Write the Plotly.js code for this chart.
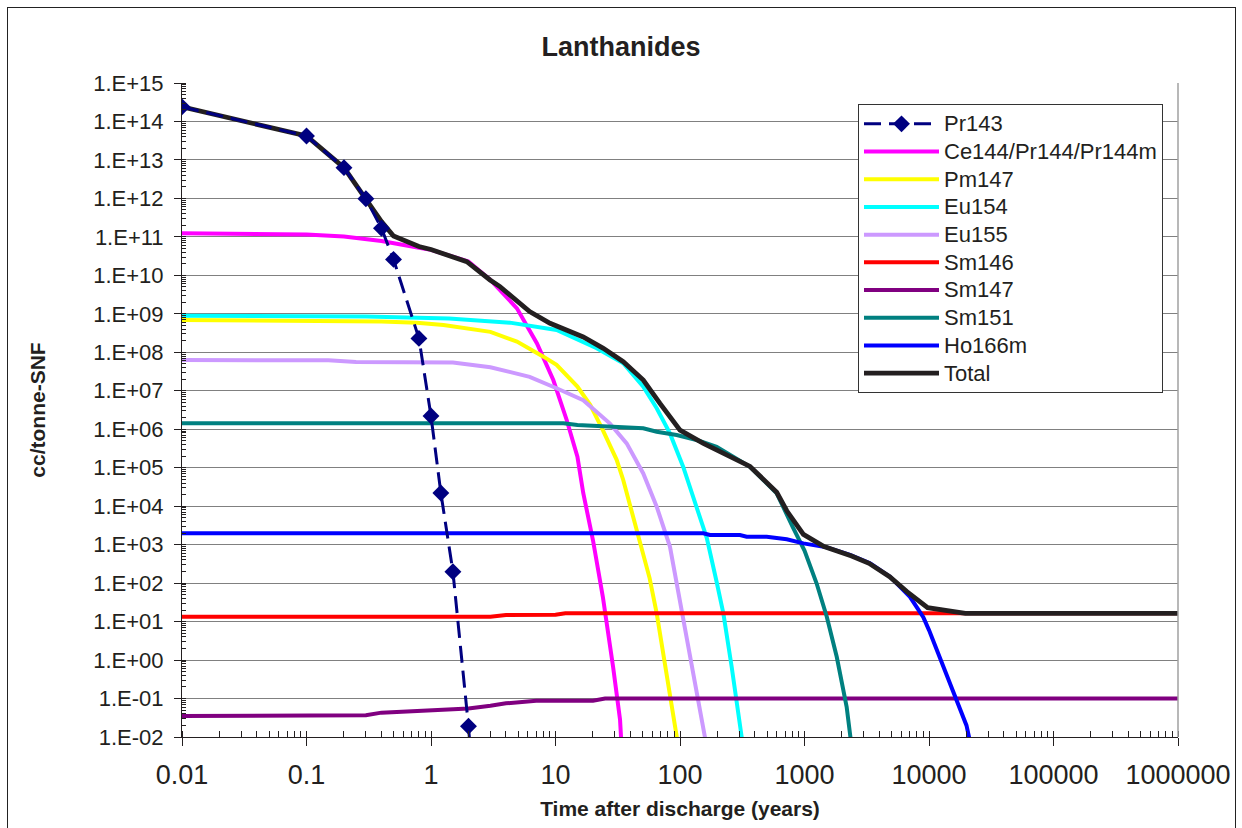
<!DOCTYPE html>
<html>
<head>
<meta charset="utf-8">
<script src="https://cdn.plot.ly/plotly-3.0.1.min.js"></script>
<style>
  html, body { margin: 0; padding: 0; background: #fff; }
  #frame { position: absolute; left: 7px; top: 7px; width: 1227px; height: 830px;
           border-left: 1px solid #222; border-top: 1px solid #222; border-right: 1px solid #222; }
  #chart { position: absolute; left: 0; top: 0; width: 1242px; height: 828px; }
</style>
</head>
<body>
<div id="frame"></div>
<div id="chart"></div>
<script>
// ---- data ----
const pr143X = [0.01, 0.1, 0.2, 0.3, 0.4, 0.5, 0.8, 1, 1.2, 1.5, 2, 2.5];
const pr143Y = [2.4e14, 4.2e13, 6.3e12, 9.8e11, 1.67e11, 2.6e10, 2.3e8, 2.2e6, 2.2e4, 198, 0.019, 2e-6];

const ce144X = [0.01, 0.1, 0.2, 0.4, 0.8, 1, 2, 3, 4.9, 7.1, 9.6, 12.3, 15, 16.7, 20, 24, 29, 33, 34, 40];
const ce144Y = [1.24e11, 1.15e11, 1.02e11, 7.8e10, 5.2e10, 4.6e10, 2.3e10, 7.6e9, 1.39e9, 1.7e8, 1.9e7, 1.74e6, 1.93e5, 2.2e4, 1.3e3, 44, 0.67, 0.028, 0.005, 1e-6];

const pm147X = [0.01, 0.22, 0.4, 0.77, 1.26, 3, 4.9, 8, 10.2, 15, 19, 24, 31, 35, 45, 57, 65, 76, 83, 97, 110];
const pm147Y = [6.9e8, 6.6e8, 6.3e8, 5.9e8, 5.1e8, 3.4e8, 1.9e8, 7.7e7, 4.7e7, 1.28e7, 4.3e6, 9.5e5, 1.6e5, 4.8e4, 2.4e3, 135, 16.4, 0.83, 0.11, 0.0056, 1e-5];

const eu154X = [0.01, 0.3, 1.4, 4.3, 10.2, 21.4, 35, 50.7, 65, 83, 106, 136, 164, 197, 223, 260, 303, 320, 360];
const eu154Y = [8.9e8, 8.5e8, 7.6e8, 5.9e8, 3.8e8, 1.27e8, 5.2e7, 1.28e7, 3.5e6, 7.8e5, 1.06e5, 9.7e3, 1.5e3, 107, 16.4, 0.67, 0.0185, 0.006, 1e-4];

const eu155X = [0.01, 0.15, 0.25, 1, 1.5, 3, 6.2, 10.2, 16.7, 27.4, 37.3, 50.7, 65, 83, 100, 120, 145, 164, 190];
const eu155Y = [6.3e7, 6.2e7, 5.6e7, 5.5e7, 5.4e7, 4.1e7, 2.3e7, 1.16e7, 5.7e6, 1.4e6, 4.3e5, 7.1e4, 9.7e3, 890, 36, 1.5, 0.06, 0.0055, 1e-5];

const sm146X = [0.01, 3, 4, 10, 12, 1e6];
const sm146Y = [13.4, 13.4, 14.8, 15, 16.4, 16.4];

const sm147X = [0.01, 0.3, 0.4, 1, 2, 3, 4, 7, 20, 25, 1e6];
const sm147Y = [0.035, 0.037, 0.043, 0.048, 0.055, 0.065, 0.075, 0.088, 0.088, 0.1, 0.1];

const sm151X = [0.01, 11.6, 15, 35, 50.7, 65, 94, 136, 197, 365, 598, 800, 1000, 1250, 1510, 1815, 2180, 2390, 2700];
const sm151Y = [1.43e6, 1.43e6, 1.29e6, 1.16e6, 1.06e6, 8.6e5, 7.1e5, 5.25e5, 3.5e5, 1.06e5, 2.16e4, 3e3, 700, 99, 13.4, 1.22, 0.061, 0.0056, 1e-5];

const ho166mX = [0.01, 154, 174, 303, 343, 497, 720, 980, 1510, 2320, 3360, 4860, 7030, 9000, 10000, 15000, 20000, 30000];
const ho166mY = [1.97e3, 1.97e3, 1.78e3, 1.78e3, 1.61e3, 1.61e3, 1.38e3, 1.08e3, 850, 540, 327, 147, 44, 13, 6, 0.2, 0.02, 5e-5];

const totalX = [0.01, 0.1, 0.2, 0.3, 0.4, 0.5, 0.8, 1, 1.94, 2.98, 3.58, 6.2, 9.04, 16.7, 24.2, 35, 50.7, 69, 100, 154, 223, 365, 598, 720, 980, 1435, 2390, 3300, 4830, 6640, 9750, 19600, 1e6];
const totalY = [2.4e14, 4.2e13, 6.3e12, 9.8e11, 2.5e11, 1.05e11, 5.6e10, 4.7e10, 2.26e10, 7.6e9, 5.1e9, 1.14e9, 5.7e8, 2.5e8, 1.27e8, 5.7e7, 1.9e7, 4.7e6, 9.5e5, 4.3e5, 2.37e5, 1.08e5, 2.3e4, 7.6e3, 1.85e3, 890, 507, 327, 147, 60, 23, 16.4, 16.4];

const yTickVals = [1e-2, 1e-1, 1e0, 1e1, 1e2, 1e3, 1e4, 1e5, 1e6, 1e7, 1e8, 1e9, 1e10, 1e11, 1e12, 1e13, 1e14, 1e15];
const yTickText = ['1.E-02','1.E-01','1.E+00','1.E+01','1.E+02','1.E+03','1.E+04','1.E+05','1.E+06','1.E+07','1.E+08','1.E+09','1.E+10','1.E+11','1.E+12','1.E+13','1.E+14','1.E+15'];
const xTickVals = [0.01, 0.1, 1, 10, 100, 1000, 10000, 100000, 1000000];
const xTickText = ['0.01','0.1','1','10','100','1000','10000','100000','1000000'];

// ---- traces ----
const lf = s => '<span style="font-size:22px">' + s + '</span>';
function line(name, x, y, color, width, rank) {
  return { type: 'scatter', mode: 'lines', name: lf(name), x: x, y: y, legendrank: rank,
           line: { color: color, width: width } };
}
const traces = [
  line('Ce144/Pr144/Pr144m', ce144X, ce144Y, '#ff00ff', 4, 2),
  line('Pm147', pm147X, pm147Y, '#ffff00', 4, 3),
  line('Eu154', eu154X, eu154Y, '#00ffff', 4, 4),
  line('Eu155', eu155X, eu155Y, '#cc99ff', 4, 5),
  line('Sm146', sm146X, sm146Y, '#ff0000', 4, 6),
  line('Sm147', sm147X, sm147Y, '#800080', 4, 7),
  line('Sm151', sm151X, sm151Y, '#008080', 4, 8),
  line('Ho166m', ho166mX, ho166mY, '#0000ff', 4, 9),
  line('Total', totalX, totalY, '#231f20', 4.8, 10),
  { type: 'scatter', mode: 'lines+markers', name: lf('Pr143'), x: pr143X, y: pr143Y, legendrank: 1,
    line: { color: '#000080', width: 3, dash: '17px,8px' },
    marker: { symbol: 'diamond', size: 13, color: '#000080' } }
];

const font = 'Liberation Sans, Arial, sans-serif';
const layout = {
  width: 1242, height: 828,
  paper_bgcolor: 'rgba(0,0,0,0)', plot_bgcolor: '#ffffff',
  margin: { l: 182, r: 64, t: 83, b: 91, autoexpand: false },
  font: { family: font, color: '#231f20' },
  title: { text: '<b>Lanthanides</b>', font: { size: 27, family: font, color: '#231f20' },
           x: 0.5, xref: 'container', xanchor: 'center', y: 1 - 47 / 828, yref: 'container', yanchor: 'middle' },
  showlegend: true,
  legend: {
    x: (858 - 182) / 996, xanchor: 'left', y: (737 - 104) / 654, yanchor: 'top',
    bgcolor: '#ffffff', bordercolor: '#333333', borderwidth: 1,
    font: { size: 19, family: font, color: '#231f20' },
    traceorder: 'normal', itemwidth: 75, tracegroupgap: 0
  },
  xaxis: {
    type: 'log', range: [-2, 6], tickmode: 'array', tickvals: xTickVals, ticktext: xTickText,
    showgrid: false, zeroline: false,
    showline: true, linecolor: '#231f20', linewidth: 1,
    ticks: 'outside', ticklen: 8, tickcolor: '#231f20', tickwidth: 1,
    tickfont: { size: 27, family: font, color: '#231f20' }, ticklabelstandoff: 6,
    minor: { ticks: 'inside', ticklen: 6, tickcolor: '#231f20', dtick: 'D1', showgrid: false },
    title: { text: '<b>Time after discharge (years)</b>', font: { size: 21, family: font, color: '#231f20' }, standoff: 11 }
  },
  yaxis: {
    type: 'log', range: [-2, 15], tickmode: 'array', tickvals: yTickVals, ticktext: yTickText,
    showgrid: true, gridcolor: '#808080', gridwidth: 1, zeroline: false,
    showline: true, linecolor: '#231f20', linewidth: 1,
    ticks: 'outside', ticklen: 7, tickcolor: '#231f20', tickwidth: 1,
    tickfont: { size: 22, family: font, color: '#231f20' }, ticklabelstandoff: 6,
    minor: { ticks: 'inside', ticklen: 4, tickcolor: '#231f20', dtick: 'D1', showgrid: false },
    title: { text: '<b>cc/tonne-SNF</b>', font: { size: 21, family: font, color: '#231f20' }, standoff: 41 }
  },
  shapes: [
    { type: 'line', xref: 'paper', yref: 'paper', x0: 1, x1: 1, y0: 0, y1: 1,
      line: { color: '#a0a0a0', width: 1.5 } }
  ]
};

Plotly.newPlot('chart', traces, layout, { displayModeBar: false, staticPlot: true });
</script>
</body>
</html>
